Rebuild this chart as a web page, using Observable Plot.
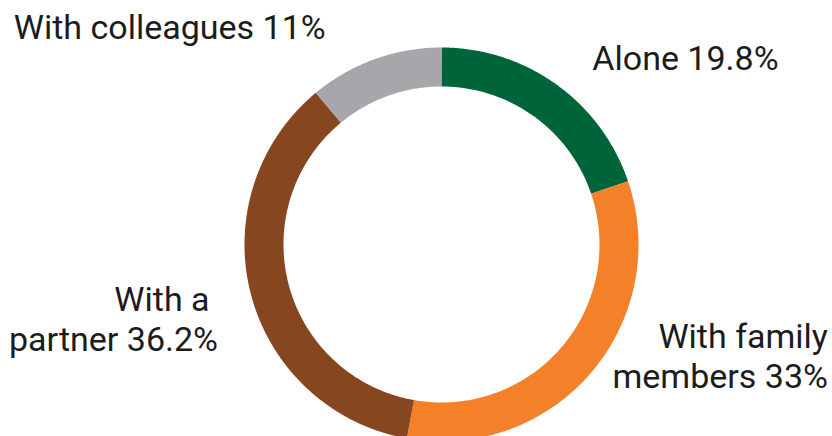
<!DOCTYPE html>
<html>
<head>
<meta charset="utf-8">
<script src="https://cdn.jsdelivr.net/npm/d3@7"></script>
<script src="https://cdn.jsdelivr.net/npm/@observablehq/plot@0.6"></script>
<style>
  html, body { margin: 0; padding: 0; background: #fff; }
  #chart svg { display: block; }
</style>
</head>
<body>
<div id="chart"></div>
<script>
// Data
const categories = ["Alone", "With family members", "With a partner", "With colleagues"];
const shares = [19.8, 33, 36.2, 11];
const labelTexts = ["Alone 19.8%", "With family\nmembers 33%", "With a\u00a0\npartner 36.2%", "With colleagues 11%"];
const colors = ["#00643a", "#f5802a", "#864620", "#a8a6aa"];

// Layout (styles / geometry)
const W = 832, H = 436;
const cx = 441, cy = 244;
const rOuter = 197, rInner = 158;
const rMid = (rOuter + rInner) / 2;
const labelLayout = [
  {anchor: "start", dx: 36,   dy: -14},
  {anchor: "end",   dx: 237,  dy: 15},
  {anchor: "end",   dx: -33,  dy: 56},
  {anchor: "start", dx: -361, dy: -20}
];

// Build arc centreline points from the shares
const total = d3.sum(shares);
let cum = 0;
const arcPts = [];
const labels = [];
categories.forEach((c, i) => {
  const a0 = cum / total * 2 * Math.PI;
  cum += shares[i];
  const a1 = cum / total * 2 * Math.PI;
  const n = Math.max(2, Math.ceil((a1 - a0) / (Math.PI / 360)));
  for (let k = 0; k <= n; k++) {
    const a = a0 + (a1 - a0) * k / n;
    arcPts.push({cat: c, x: cx + rMid * Math.sin(a), y: cy - rMid * Math.cos(a)});
  }
  const am = (a0 + a1) / 2;
  labels.push({
    cat: c,
    text: labelTexts[i],
    x: cx + rOuter * Math.sin(am) + labelLayout[i].dx,
    y: cy - rOuter * Math.cos(am) + labelLayout[i].dy,
    anchor: labelLayout[i].anchor
  });
});

const textStyle = {
  fontSize: 34,
  fontFamily: "Roboto, 'Noto Sans', sans-serif",
  fill: "#1c1c1c",
  lineAnchor: "bottom",
  lineHeight: 1.18
};

const chart = Plot.plot({
  width: W,
  height: H,
  margin: 0,
  x: {domain: [0, W], range: [0, W], axis: null},
  y: {domain: [0, H], range: [0, H], axis: null},
  color: {type: "ordinal", domain: categories, range: colors},
  style: {background: "#fff"},
  marks: [
    Plot.line(arcPts, {x: "x", y: "y", z: "cat", stroke: "cat", strokeWidth: rOuter - rInner, strokeLinecap: "butt", strokeLinejoin: "round", curve: "linear"}),
    Plot.text(labels.filter(d => d.anchor === "start"), {x: "x", y: "y", text: "text", textAnchor: "start", ...textStyle}),
    Plot.text(labels.filter(d => d.anchor === "end"), {x: "x", y: "y", text: "text", textAnchor: "end", ...textStyle})
  ]
});
document.getElementById("chart").appendChild(chart);
</script>
</body>
</html>
